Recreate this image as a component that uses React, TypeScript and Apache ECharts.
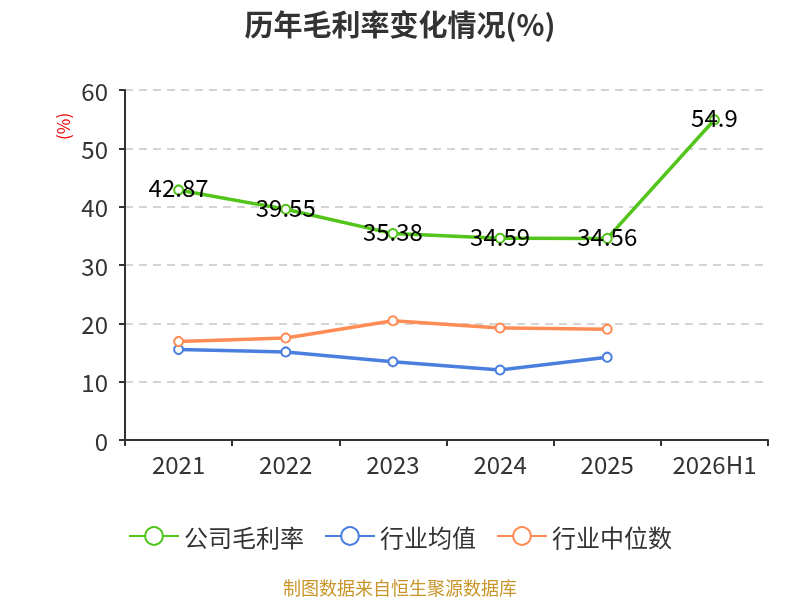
import React, { useEffect, useRef } from "react";
import * as echarts from "echarts";

const categories = ["2021", "2022", "2023", "2024", "2025", "2026H1"];
const companyMargin = [42.87, 39.55, 35.38, 34.59, 34.56, 54.9];
const industryAvg = [15.5, 15.1, 13.4, 12.0, 14.2, null];
const industryMedian = [16.9, 17.5, 20.45, 19.2, 19.0, null];
const yTicks = { min: 0, max: 60, interval: 10 };

const FONT = "'Noto Sans CJK SC', 'Noto Sans', sans-serif";

export default function App() {
  const ref = useRef<HTMLDivElement>(null);
  useEffect(() => {
    if (!ref.current) return;
    const chart = echarts.init(ref.current, null, { renderer: "svg" });
    const mkSeries = (name: string, data: any[], color: string, label: boolean) => ({
      name,
      type: "line",
      data,
      symbol: "emptyCircle",
      symbolSize: 9,
      showSymbol: true,
      itemStyle: { color, borderWidth: 2 },
      lineStyle: { color, width: 3.5 },
      label: label
        ? {
            show: true,
            position: "inside",
            offset: [0, -3],
            color: "#000",
            fontSize: 24,
            fontFamily: FONT,
          }
        : { show: false },
      z: label ? 3 : 2,
    });
    chart.setOption({
      animation: false,
      textStyle: { fontFamily: FONT },
      title: {
        text: "历年毛利率变化情况(%)",
        left: "center",
        top: 3,
        textStyle: { fontSize: 29, fontWeight: "bold", color: "#333", fontFamily: FONT },
      },
      legend: {
        bottom: 47,
        left: "center",
        itemWidth: 50,
        itemHeight: 22,
        itemGap: 20,
        textStyle: { fontSize: 24, color: "#333", fontFamily: FONT },
        data: ["公司毛利率", "行业均值", "行业中位数"],
      },
      graphic: [
        {
          type: "text",
          left: "center",
          top: 578,
          style: { text: "制图数据来自恒生聚源数据库", fill: "#c8952a", fontSize: 18, fontFamily: FONT },
        },
        {
          type: "text",
          x: 54,
          y: 140,
          rotation: Math.PI / 2,
          style: { text: "(%)", fill: "#e00", fontSize: 17, fontFamily: FONT },
        },
      ],
      grid: { left: 125, right: 32, top: 90, bottom: 160 },
      xAxis: {
        type: "category",
        data: categories,
        axisLine: { lineStyle: { color: "#333", width: 2 } },
        axisTick: { show: true, alignWithLabel: false, length: 6, lineStyle: { color: "#333", width: 2 } },
        axisLabel: { interval: 0, fontSize: 24, color: "#333", margin: 11, fontFamily: FONT },
      },
      yAxis: {
        type: "value",
        min: yTicks.min,
        max: yTicks.max,
        interval: yTicks.interval,
        axisLine: { show: true, lineStyle: { color: "#333", width: 2 } },
        axisTick: { show: true, length: 6, lineStyle: { color: "#333", width: 2 } },
        axisLabel: { fontSize: 24, color: "#333", margin: 17, fontFamily: FONT },
        splitLine: { lineStyle: { color: "#c8c8c8", type: [8, 6], width: 1.5 } },
      },
      series: [
        mkSeries("公司毛利率", companyMargin, "#52c41a", true),
        mkSeries("行业均值", industryAvg, "#4a7fe0", false),
        mkSeries("行业中位数", industryMedian, "#ff8c55", false),
      ],
    });
    return () => chart.dispose();
  }, []);
  return <div ref={ref} style={{ position: "fixed", left: 0, top: 0, width: 800, height: 600 }} />;
}
